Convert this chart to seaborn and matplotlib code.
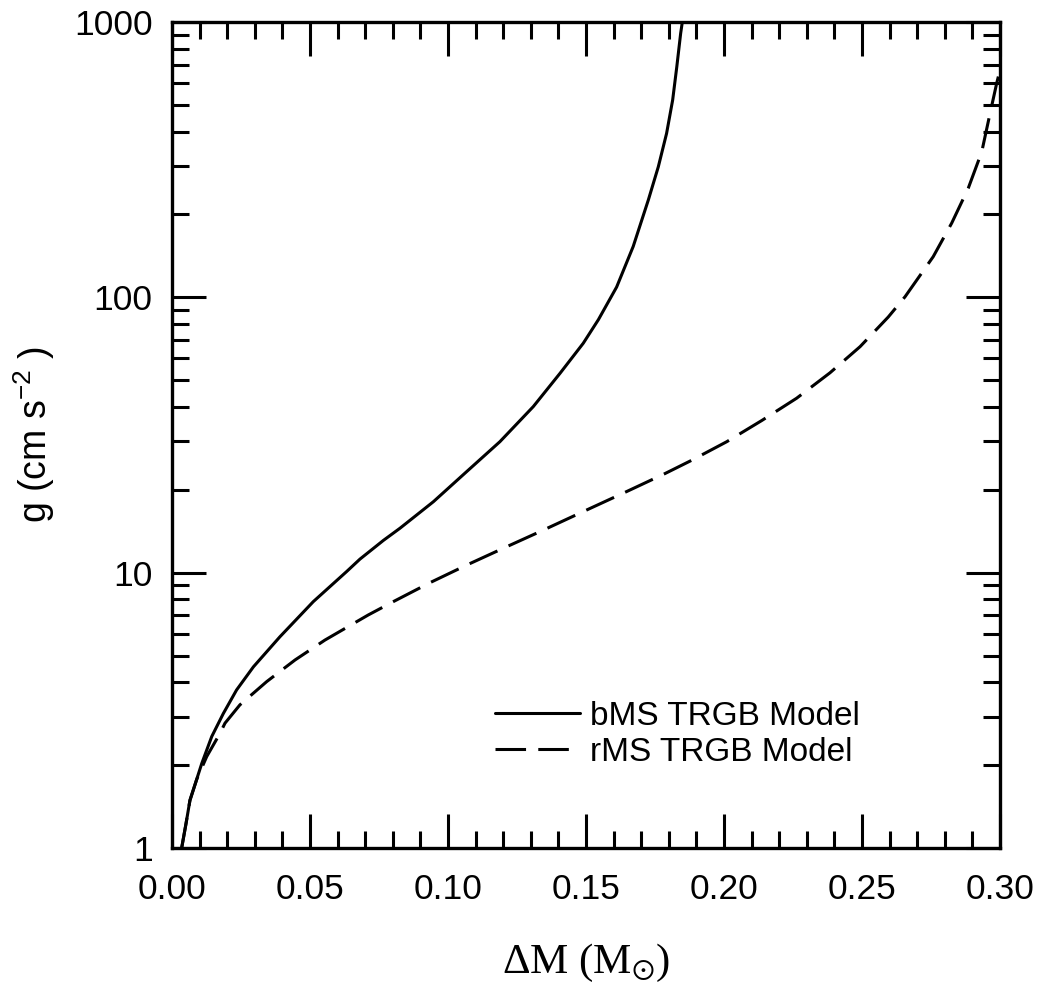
import numpy as np
import pandas as pd
import matplotlib
matplotlib.use("Agg")
import matplotlib.pyplot as plt
import seaborn as sns
from matplotlib.ticker import FixedLocator, MultipleLocator, LogLocator, NullFormatter

# ---- data ----
bms_dm = [0.0035, 0.0051, 0.0065, 0.0108, 0.0144, 0.0186, 0.0234, 0.0295, 0.0391,
          0.0512, 0.0633, 0.0681, 0.0766, 0.0826, 0.0947, 0.1068, 0.1188, 0.1309,
          0.1406, 0.1490, 0.1545, 0.1611, 0.1671, 0.1726, 0.1762, 0.1792, 0.1814,
          0.1829, 0.1843, 0.1849]
bms_g = [1.0, 1.23, 1.49, 2.03, 2.54, 3.08, 3.75, 4.55, 5.85,
         7.85, 10.1, 11.2, 13.1, 14.5, 18.1, 23.3, 29.9, 40.1,
         53.0, 68.1, 83.0, 109.0, 153.0, 226.0, 298.0, 394.0, 521.0,
         688.0, 910.0, 1000.0]

rms_dm = [0.0035, 0.0051, 0.0065, 0.0090, 0.0126, 0.0174, 0.0192, 0.0246, 0.0343,
          0.0446, 0.0554, 0.0711, 0.0802, 0.0935, 0.1068, 0.1200, 0.1333,
          0.1514, 0.1647, 0.1786, 0.1883, 0.2010, 0.2137, 0.2263, 0.2384, 0.2493,
          0.2595, 0.2656, 0.2758, 0.2825, 0.2885, 0.2934, 0.2964, 0.2988, 0.3000]
rms_g = [1.0, 1.23, 1.49, 1.78, 2.15, 2.61, 2.84, 3.31, 4.02,
         4.82, 5.69, 7.02, 7.85, 9.20, 10.66, 12.26, 14.09,
         17.1, 19.7, 22.9, 25.6, 29.9, 35.7, 43.0, 53.2, 66.2,
         84.8, 100.5, 140.5, 186.0, 249.0, 338.0, 466.0, 599.0, 670.0]

series_names = ["bMS TRGB Model", "rMS TRGB Model"]
x_ticks = [0.00, 0.05, 0.10, 0.15, 0.20, 0.25, 0.30]
x_tick_labels = ["0.00", "0.05", "0.10", "0.15", "0.20", "0.25", "0.30"]
y_ticks = [1, 10, 100, 1000]
y_tick_labels = ["1", "10", "100", "1000"]

df = pd.concat([
    pd.DataFrame({"dM": bms_dm, "g": bms_g, "model": series_names[0]}),
    pd.DataFrame({"dM": rms_dm, "g": rms_g, "model": series_names[1]}),
], ignore_index=True)

sns.set_theme(style="ticks")
plt.rcParams["font.family"] = ["Liberation Sans", "DejaVu Sans"]
plt.rcParams["mathtext.default"] = "regular"
plt.rcParams["text.color"] = "black"

fig = plt.figure(figsize=(10.44, 9.84), dpi=100)
ax = fig.add_axes([172 / 1044, (984 - 848) / 984, 828 / 1044, 826 / 984])

sns.lineplot(data=df, x="dM", y="g", style="model", color="black",
             dashes={series_names[0]: "", series_names[1]: (10, 4)},
             linewidth=2.2, ax=ax, sort=False, estimator=None)

ax.set_yscale("log")
ax.set_xlim(0, 0.30)
ax.set_ylim(1, 1000)

ax.xaxis.set_major_locator(FixedLocator(x_ticks))
ax.set_xticklabels(x_tick_labels)
ax.xaxis.set_minor_locator(MultipleLocator(0.01))
ax.yaxis.set_major_locator(FixedLocator(y_ticks))
ax.set_yticklabels(y_tick_labels)
ax.yaxis.set_minor_locator(LogLocator(base=10, subs=np.arange(2, 10)))
ax.yaxis.set_minor_formatter(NullFormatter())

ax.tick_params(which="both", direction="in", top=True, right=True,
               width=2.2, color="black", labelsize=25.5, labelcolor="black")
ax.tick_params(axis="x", which="major", pad=18)
ax.tick_params(axis="y", which="major", pad=14)
ax.tick_params(which="major", length=24.5)
ax.tick_params(which="minor", length=12)
for s in ax.spines.values():
    s.set_linewidth(2.4)
    s.set_color("black")

ax.set_ylabel("g (cm s$^{-2}$ )", fontsize=27, labelpad=12, color="black")
ax.set_xlabel(r"$\Delta$M (M$_{\odot}$)", fontsize=31, labelpad=26, color="black",
              family=["Liberation Serif", "DejaVu Serif"])

leg = ax.legend(loc="center left", bbox_to_anchor=(0.39, 0.138), frameon=False,
                fontsize=24, handlelength=2.55, handletextpad=0.3,
                labelspacing=0.15, borderpad=0, borderaxespad=0, title=None)
for line in leg.get_lines():
    line.set_linewidth(2.2)
for t in leg.get_texts():
    t.set_color("black")

fig.savefig("out.png", dpi=100, facecolor="white")
